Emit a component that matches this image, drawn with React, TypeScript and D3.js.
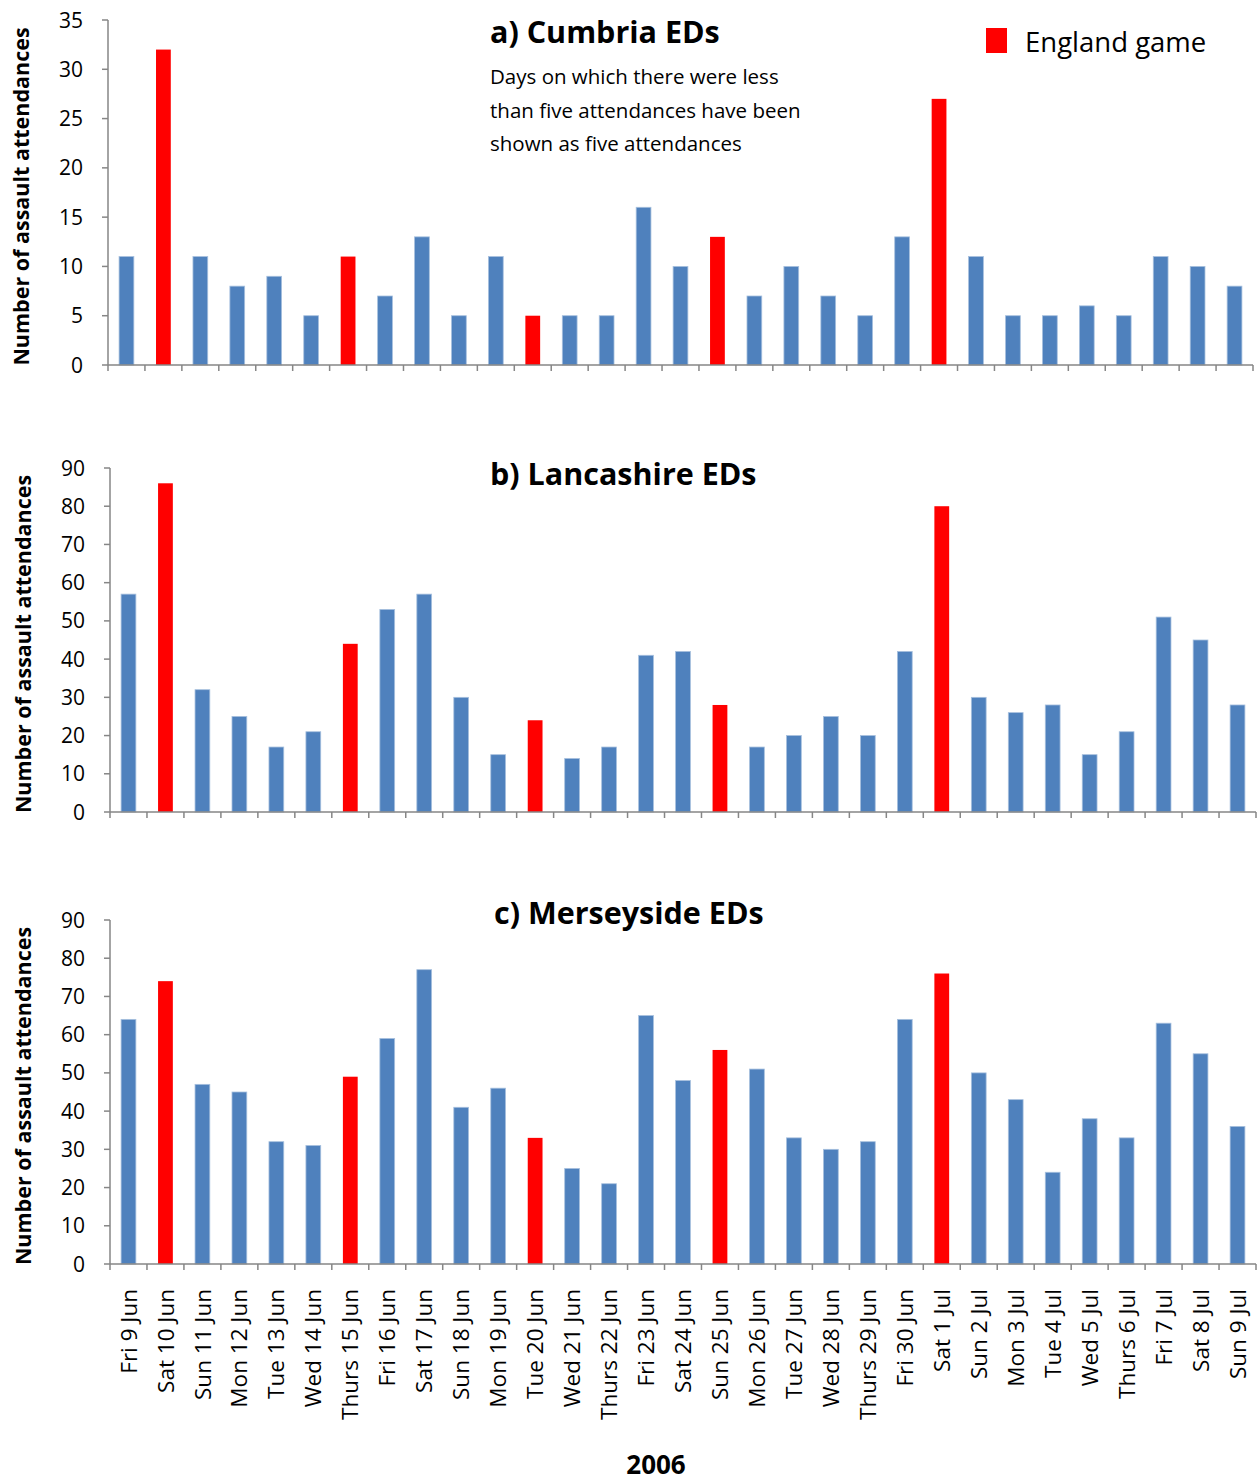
import React from "react";
import * as d3 from "d3";

const days = [
  "Fri 9 Jun", "Sat 10 Jun", "Sun 11 Jun", "Mon 12 Jun", "Tue 13 Jun", "Wed 14 Jun",
  "Thurs 15 Jun", "Fri 16 Jun", "Sat 17 Jun", "Sun 18 Jun", "Mon 19 Jun", "Tue 20 Jun",
  "Wed 21 Jun", "Thurs 22 Jun", "Fri 23 Jun", "Sat 24 Jun", "Sun 25 Jun", "Mon 26 Jun",
  "Tue 27 Jun", "Wed 28 Jun", "Thurs 29 Jun", "Fri 30 Jun", "Sat 1 Jul", "Sun 2 Jul",
  "Mon 3 Jul", "Tue 4 Jul", "Wed 5 Jul", "Thurs 6 Jul", "Fri 7 Jul", "Sat 8 Jul", "Sun 9 Jul",
];

const englandGames = ["Sat 10 Jun", "Thurs 15 Jun", "Tue 20 Jun", "Sun 25 Jun", "Sat 1 Jul"];

const cumbria = [11, 32, 11, 8, 9, 5, 11, 7, 13, 5, 11, 5, 5, 5, 16, 10, 13, 7, 10, 7, 5, 13, 27, 11, 5, 5, 6, 5, 11, 10, 8];
const lancashire = [57, 86, 32, 25, 17, 21, 44, 53, 57, 30, 15, 24, 14, 17, 41, 42, 28, 17, 20, 25, 20, 42, 80, 30, 26, 28, 15, 21, 51, 45, 28];
const merseyside = [64, 74, 47, 45, 32, 31, 49, 59, 77, 41, 46, 33, 25, 21, 65, 48, 56, 51, 33, 30, 32, 64, 76, 50, 43, 24, 38, 33, 63, 55, 36];

const cumbriaTicks = [0, 5, 10, 15, 20, 25, 30, 35];
const bigTicks = [0, 10, 20, 30, 40, 50, 60, 70, 80, 90];

const FONT = "'Open Sans', sans-serif";
const BLUE = "#4f81bd";
const RED = "#ff0000";
const AXIS = "#868686";

type PanelProps = {
  title: string;
  values: number[];
  ticks: number[];
  top: number;
  bottom: number;
  left: number;
  right: number;
  titleX: number;
  titleY: number;
  showLabels?: boolean;
};

const Panel = ({ title, values, ticks, top, bottom, left, right, titleX, titleY, showLabels }: PanelProps) => {
  const x = d3.scaleBand<string>().domain(days).range([left, right]).paddingInner(0.6).paddingOuter(0.3);
  const cat = d3.scaleBand<string>().domain(days).range([left, right]).padding(0);
  const y = d3.scaleLinear().domain([0, d3.max(ticks) as number]).range([bottom, top]);
  const tickXs = [...days.map((d) => cat(d) as number), right];

  return (
    <g>
      {/* bars */}
      {days.map((d, i) => (
        <rect
          key={d}
          x={x(d)}
          y={y(values[i])}
          width={x.bandwidth()}
          height={bottom - y(values[i])}
          fill={englandGames.includes(d) ? RED : BLUE}
          stroke={englandGames.includes(d) ? "none" : "#a7c0de"}
          strokeWidth={0.8}
        />
      ))}
      {/* y axis */}
      <line x1={left} x2={left} y1={top} y2={bottom} stroke={AXIS} strokeWidth={1.5} />
      {ticks.map((t) => (
        <g key={t}>
          <line x1={left - 6} x2={left} y1={y(t)} y2={y(t)} stroke={AXIS} strokeWidth={1.5} />
          <text x={left - 25} y={y(t)} dy="0.36em" textAnchor="end" fontSize={21} fontFamily={FONT} fill="#000">
            {t}
          </text>
        </g>
      ))}
      <text
        transform={`translate(${left - 87},${(top + bottom) / 2 + 4}) rotate(-90)`}
        textAnchor="middle"
        dy="0.35em"
        fontSize={21.5}
        fontWeight="bold"
        fontFamily={FONT}
      >
        Number of assault attendances
      </text>
      {/* x axis */}
      <line x1={left} x2={right} y1={bottom} y2={bottom} stroke={AXIS} strokeWidth={1.5} />
      {tickXs.map((tx, i) => (
        <line key={i} x1={tx} x2={tx} y1={bottom} y2={bottom + 6} stroke={AXIS} strokeWidth={1.5} />
      ))}
      {showLabels &&
        days.map((d) => (
          <text
            key={d}
            transform={`translate(${(x(d) as number) + x.bandwidth() / 2},${bottom + 25}) rotate(-90)`}
            textAnchor="end"
            dy="0.36em"
            fontSize={22.5}
            fontFamily={FONT}
          >
            {d}
          </text>
        ))}
      <text x={titleX} y={titleY} fontSize={30.5} fontWeight="bold" fontFamily={FONT}>
        {title}
      </text>
    </g>
  );
};

const App = () => {
  return (
    <svg width={1260} height={1483} style={{ position: "absolute", left: 0, top: 0, background: "#fff" }}>
      <rect width={1260} height={1483} fill="#fff" />
      <Panel title="a) Cumbria EDs" values={cumbria} ticks={cumbriaTicks} top={20} bottom={365} left={108} right={1253} titleX={490} titleY={43} />
      <Panel title="b) Lancashire EDs" values={lancashire} ticks={bigTicks} top={468} bottom={812} left={110} right={1256} titleX={490} titleY={485} />
      <Panel title="c) Merseyside EDs" values={merseyside} ticks={bigTicks} top={920} bottom={1264} left={110} right={1256} titleX={494} titleY={924} showLabels />
      {["Days on which there were less", "than five attendances have been", "shown as five attendances"].map((line, i) => (
        <text key={i} x={490} y={84 + i * 33.5} fontSize={20.5} fontFamily={FONT}>
          {line}
        </text>
      ))}
      {/* legend */}
      <rect x={986} y={28} width={21} height={25} fill={RED} />
      <text x={1025} y={52} fontSize={27.5} fontFamily={FONT}>
        England game
      </text>
      <text x={656} y={1474} textAnchor="middle" fontSize={26} fontWeight="bold" fontFamily={FONT}>
        2006
      </text>
    </svg>
  );
};

export default App;
